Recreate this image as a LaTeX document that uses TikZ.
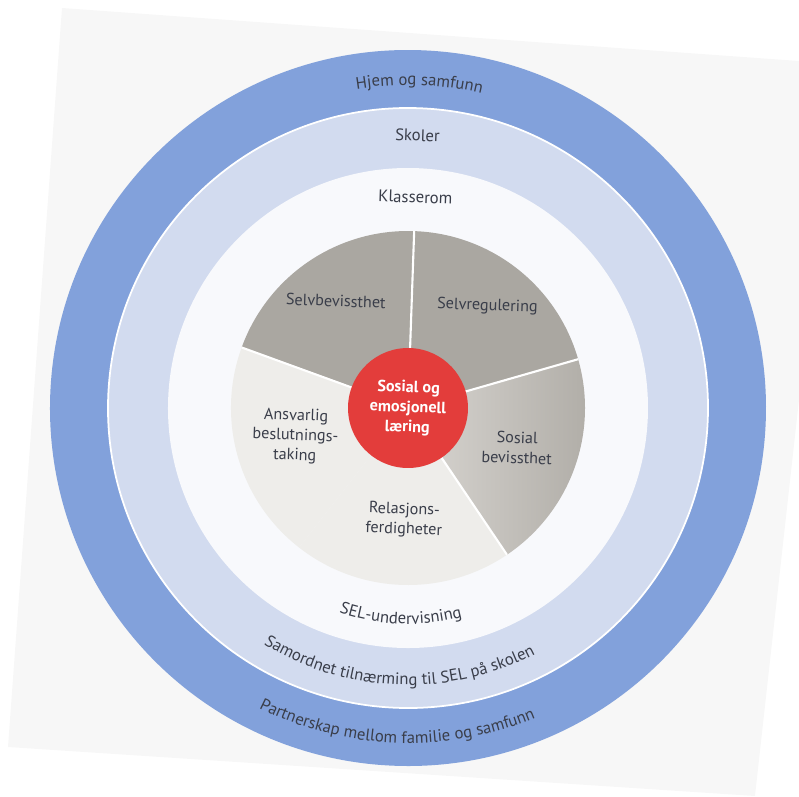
\documentclass[tikz,border=0pt]{standalone}
\usepackage{fontspec}
\setmainfont{PT Sans}
\usetikzlibrary{decorations.text}

\definecolor{ringblue}{RGB}{130,161,219}
\definecolor{ringlight}{RGB}{210,219,239}
\definecolor{ringwhite}{RGB}{248,249,252}
\definecolor{piedark}{RGB}{170,167,161}
\definecolor{piemid}{RGB}{200,196,190}
\definecolor{pielight}{RGB}{238,237,234}
\definecolor{selred}{RGB}{227,61,59}
\definecolor{labeltext}{RGB}{58,62,74}
\definecolor{pagegray}{RGB}{247,247,247}

\newcommand\labelfont{\fontsize{9.2}{11.3}\selectfont}
\newcommand\ringfont{\fontsize{9.5}{11.3}\selectfont}

\begin{document}
\begin{tikzpicture}[x=0.02cm, y=0.02cm,
    seglabel/.style={align=center, text=labeltext, font=\labelfont},
    ringlabel/.style={postaction={decorate},
        decoration={text along path, text align=center,
            text color=labeltext, text={|\ringfont|#1}}}
]
    \useasboundingbox (-408,-388) rectangle (391,408);
    % Definitions
    \coordinate (origo) at (0,0);
    \def \outerradius{358}
    \def \blueinner{300}
    \def \lightinner{240}
    \def \pieradius{177}
    \def \labelradius{126}
    %%%
    %%% Page
    %%%
    \fill[pagegray] (-346,400) -- (391,347) -- (391,8) -- (347,-388) -- (-400,-339) -- cycle;
    \begin{scope}[rotate=-2, transform shape]
    %%%
    %%% Rings
    %%%
    \fill[ringblue] (origo) circle (\outerradius);
    \fill[ringlight] (origo) circle (\blueinner);
    \draw[white, line width=1pt] (origo) circle (\blueinner);
    \fill[ringwhite] (origo) circle (\lightinner);
    % Ring texts, top
    \path[ringlabel={Hjem og samfunn}] (150:323) arc (150:30:323);
    \node[seglabel, font=\ringfont] (skoler) at (90:273) {Skoler};
    \node[seglabel, font=\ringfont] (klasserom) at (90:211) {Klasserom};
    % Ring texts, bottom
    \path[ringlabel={SEL-undervisning}] (220:216) arc (220:320:216);
    \path[ringlabel={Samordnet tilnærming til SEL på skolen}] (200:277) arc (200:340:277);
    \path[ringlabel={Partnerskap mellom familie og samfunn}] (200:335) arc (200:340:335);
    %%%
    %%% Pie
    %%%
    \foreach \start/\col in {18/piedark, 90/piedark, 162/pielight, 234/pielight}
    {
        \fill[\col] (origo) -- (\start:\pieradius) arc (\start:\start+72:\pieradius) -- cycle;
    }
    \shade[left color=piemid!70!white, right color=piedark!85!piemid]
        (origo) -- (306:\pieradius) arc (306:378:\pieradius) -- cycle;
    % White dividers
    \foreach \x in {18, 90, 162, 306}
    {
        \draw[white, line width=1.2pt] (origo) -- (\x:\pieradius);
    }
    % Segment texts
    \node[seglabel] (selvbev) at (126:\labelradius+3) {Selvbevissthet};
    \node[seglabel] (selvreg) at (54:\labelradius+3) {Selvregulering};
    \node[seglabel] (sosbev) at (-18:\labelradius-10) {Sosial\\bevissthet};
    \node[seglabel] (relasjon) at (-90:\labelradius-14) {Relasjons-\\ferdigheter};
    \node[seglabel] (ansvar) at (196:\labelradius-10) {Ansvarlig\\beslutnings-\\taking};
    % Centre
    \node[circle, fill=selred, minimum size=2.4cm, inner sep=0pt, align=center,
        text=white, font=\labelfont\bfseries] (sel) at (origo) {Sosial og\\emosjonell\\læring};
    \end{scope}
\end{tikzpicture}
\end{document}
